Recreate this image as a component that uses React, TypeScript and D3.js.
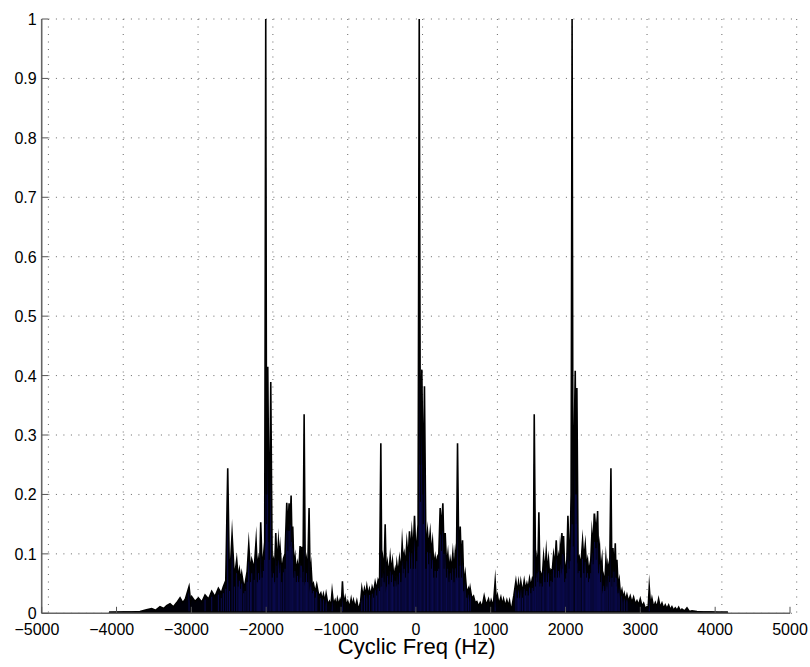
import React from "react";
import * as d3 from "d3";

const freqs: number[] = [
  -4100, -4087, -3900, -3800, -3686, -3600, -3530, -3480, -3419, -3370, -3330, -3285, -3240, -3195, -3151, -3115, -3080, -3031, -3010, -2995,
  -2950, -2906, -2860, -2817, -2770, -2728, -2685, -2639, -2600, -2572, -2540, -2514, -2490, -2456, -2425, -2394, -2375, -2358, -2340, -2327,
  -2300, -2282, -2255, -2233, -2210, -2193, -2160, -2135, -2118, -2104, -2088, -2073, -2055, -2037, -2020, -2006, -1995, -1979, -1960, -1939,
  -1920, -1903, -1888, -1872, -1855, -1837, -1825, -1814, -1792, -1770, -1748, -1725, -1710, -1694, -1680, -1667, -1655, -1645, -1630, -1614,
  -1598, -1582, -1565, -1547, -1535, -1525, -1508, -1493, -1478, -1462, -1445, -1427, -1413, -1400, -1385, -1369, -1345, -1324, -1295, -1270,
  -1250, -1235, -1215, -1199, -1175, -1155, -1135, -1119, -1100, -1079, -1060, -1048, -1030, -1012, -995, -981, -965, -945, -925, -909,
  -885, -865, -850, -834, -810, -789, -770, -753, -738, -722, -705, -687, -670, -655, -638, -620, -600, -584, -565, -544,
  -525, -504, -485, -468, -455, -441, -425, -410, -395, -379, -360, -343, -327, -312, -295, -277, -265, -254, -237, -219,
  -200, -183, -170, -156, -140, -121, -103, -85, -70, -54, -36, -18, 0, 13, 30, 45, 60, 80, 98, 115,
  135, 156, 172, 191, 207, 223, 240, 258, 273, 289, 307, 325, 343, 361, 377, 392, 410, 428, 443, 459,
  477, 494, 510, 526, 542, 557, 575, 593, 608, 624, 640, 659, 680, 704, 715, 726, 748, 771, 793, 815,
  838, 860, 885, 913, 940, 971, 990, 1007, 1035, 1060, 1075, 1091, 1110, 1136, 1155, 1172, 1195, 1216, 1235, 1252,
  1268, 1283, 1310, 1337, 1355, 1372, 1388, 1403, 1425, 1448, 1466, 1484, 1500, 1519, 1537, 1555, 1570, 1582, 1600, 1617,
  1630, 1644, 1658, 1671, 1690, 1707, 1725, 1742, 1758, 1773, 1790, 1805, 1822, 1840, 1858, 1876, 1892, 1907, 1918, 1929,
  1940, 1952, 1963, 1974, 1990, 2005, 2018, 2032, 2048, 2063, 2075, 2088, 2100, 2130, 2140, 2152, 2168, 2183, 2205, 2228,
  2245, 2264, 2280, 2295, 2310, 2322, 2338, 2353, 2368, 2384, 2395, 2406, 2418, 2429, 2442, 2455, 2470, 2487, 2498, 2509,
  2525, 2540, 2555, 2567, 2590, 2607, 2620, 2634, 2650, 2665, 2677, 2687, 2703, 2718, 2736, 2754, 2770, 2785, 2803, 2821,
  2843, 2865, 2888, 2910, 2933, 2955, 2977, 2999, 3022, 3044, 3066, 3088, 3105, 3119, 3137, 3155, 3178, 3200, 3222, 3244,
  3266, 3289, 3311, 3333, 3355, 3378, 3400, 3422, 3445, 3467, 3490, 3512, 3535, 3556, 3590, 3623, 3655, 3690, 3757, 3846,
  3950, 4050, 4160, 4170,
];

const mags: number[] = [
  0, 0.001, 0.002, 0.002, 0.003, 0.006, 0.008, 0.005, 0.011, 0.008, 0.013, 0.016, 0.011, 0.018, 0.026, 0.018, 0.024, 0.045, 0.02, 0.028,
  0.02, 0.026, 0.019, 0.031, 0.024, 0.037, 0.028, 0.042, 0.034, 0.045, 0.055, 0.244, 0.05, 0.133, 0.06, 0.09, 0.06, 0.073, 0.055, 0.067,
  0.045, 0.05, 0.07, 0.116, 0.07, 0.09, 0.075, 0.122, 0.07, 0.09, 0.075, 0.153, 0.08, 0.095, 0.12, 1.0, 0.2, 0.415, 0.12, 0.389,
  0.08, 0.09, 0.07, 0.135, 0.08, 0.119, 0.09, 0.11, 0.07, 0.092, 0.1, 0.186, 0.14, 0.185, 0.15, 0.198, 0.12, 0.146, 0.08, 0.095,
  0.07, 0.084, 0.07, 0.113, 0.08, 0.112, 0.07, 0.335, 0.07, 0.09, 0.07, 0.177, 0.06, 0.078, 0.045, 0.05, 0.035, 0.048, 0.028, 0.034,
  0.022, 0.032, 0.02, 0.033, 0.015, 0.02, 0.012, 0.037, 0.015, 0.022, 0.012, 0.024, 0.014, 0.023, 0.015, 0.054, 0.015, 0.027, 0.012, 0.02,
  0.01, 0.024, 0.012, 0.022, 0.01, 0.021, 0.008, 0.012, 0.02, 0.042, 0.028, 0.041, 0.03, 0.045, 0.03, 0.041, 0.03, 0.044, 0.035, 0.052,
  0.04, 0.056, 0.05, 0.286, 0.06, 0.09, 0.07, 0.15, 0.06, 0.084, 0.065, 0.094, 0.07, 0.087, 0.06, 0.073, 0.06, 0.083, 0.065, 0.091,
  0.07, 0.118, 0.09, 0.1, 0.08, 0.118, 0.09, 0.138, 0.1, 0.135, 0.1, 0.164, 0.1, 0.117, 0.15, 1.0, 0.25, 0.41, 0.2, 0.382,
  0.1, 0.137, 0.11, 0.135, 0.1, 0.12, 0.08, 0.095, 0.08, 0.095, 0.1, 0.177, 0.14, 0.185, 0.1, 0.135, 0.08, 0.1, 0.07, 0.09,
  0.075, 0.101, 0.07, 0.101, 0.08, 0.286, 0.08, 0.146, 0.08, 0.123, 0.05, 0.067, 0.035, 0.042, 0.03, 0.042, 0.025, 0.029, 0.018, 0.02,
  0.012, 0.018, 0.01, 0.029, 0.014, 0.024, 0.012, 0.022, 0.012, 0.054, 0.02, 0.03, 0.015, 0.027, 0.014, 0.024, 0.012, 0.022, 0.012, 0.021,
  0.008, 0.01, 0.03, 0.054, 0.035, 0.052, 0.035, 0.053, 0.035, 0.055, 0.04, 0.05, 0.04, 0.058, 0.045, 0.057, 0.05, 0.335, 0.06, 0.09,
  0.07, 0.17, 0.06, 0.067, 0.06, 0.095, 0.07, 0.103, 0.07, 0.09, 0.06, 0.073, 0.07, 0.098, 0.08, 0.123, 0.08, 0.095, 0.08, 0.11,
  0.09, 0.135, 0.1, 0.13, 0.07, 0.078, 0.09, 0.164, 0.1, 0.117, 0.2, 1.0, 0.15, 0.408, 0.2, 0.379, 0.09, 0.095, 0.08, 0.122,
  0.09, 0.115, 0.08, 0.09, 0.07, 0.078, 0.09, 0.135, 0.11, 0.168, 0.12, 0.146, 0.12, 0.172, 0.09, 0.11, 0.07, 0.09, 0.05, 0.062,
  0.05, 0.09, 0.06, 0.084, 0.07, 0.244, 0.06, 0.11, 0.07, 0.118, 0.06, 0.09, 0.045, 0.056, 0.03, 0.039, 0.025, 0.033, 0.022, 0.031,
  0.02, 0.029, 0.018, 0.027, 0.015, 0.021, 0.014, 0.024, 0.012, 0.017, 0.008, 0.011, 0.01, 0.044, 0.012, 0.025, 0.01, 0.018, 0.01, 0.024,
  0.01, 0.017, 0.008, 0.014, 0.008, 0.014, 0.006, 0.011, 0.005, 0.009, 0.005, 0.01, 0.004, 0.007, 0.004, 0.009, 0.003, 0.004, 0.003, 0.002,
  0.002, 0.001, 0.001, 0,
];

const xTicks: number[] = [-5000, -4000, -3000, -2000, -1000, 0, 1000, 2000, 3000, 4000, 5000];
const yTicks: number[] = [0, 0.1, 0.2, 0.3, 0.4, 0.5, 0.6, 0.7, 0.8, 0.9, 1];
const xLabel = "Cyclic Freq (Hz)";

const W = 810;
const H = 667;
const LEFT = 41.7;
const RIGHT = 790;
const TOP = 19;
const BOTTOM = 613.3;
const GRID_SHIFT = 6.7;
const FONT = "'Liberation Sans', Arial, Helvetica, sans-serif";

export default function App() {
  const x = d3.scaleLinear().domain([-5000, 5000]).range([LEFT, RIGHT]);
  const y = d3.scaleLinear().domain([0, 1]).range([BOTTOM, TOP]);

  const pts: [number, number][] = freqs.map((f, i) => [f, mags[i]]);
  const area = d3
    .area<[number, number]>()
    .x((d) => x(d[0]))
    .y0(y(0))
    .y1((d) => y(d[1]))
    .curve(d3.curveLinear);
  const line = d3
    .line<[number, number]>()
    .x((d) => x(d[0]))
    .y((d) => y(d[1]));

  const fmt = (t: number) => d3.format("")(t);

  return (
    <svg
      width={W}
      height={H}
      viewBox={`0 0 ${W} ${H}`}
      style={{ position: "absolute", left: 0, top: 0, background: "#fff" }}
    >
      <rect x={0} y={0} width={W} height={H} fill="#fff" />
      {/* grid */}
      <g stroke="#666" strokeWidth={1} strokeDasharray="1,6.5" fill="none">
        {xTicks.map((t) => (
          <line key={"gx" + t} x1={x(t) + GRID_SHIFT} x2={x(t) + GRID_SHIFT} y1={TOP} y2={BOTTOM} />
        ))}
        {yTicks.map((t) => (
          <line key={"gy" + t} x1={LEFT + GRID_SHIFT} x2={RIGHT + GRID_SHIFT} y1={y(t)} y2={y(t)} />
        ))}
      </g>
      {/* data */}
      <path d={area(pts) || ""} fill="#000008" stroke="none" />
      <g stroke="#14148c" strokeWidth={1} opacity={0.55}>
        {pts
          .filter((d) => d[1] > 0.03)
          .map((d, i) => (
            <line key={"s" + i} x1={x(d[0])} x2={x(d[0])} y1={y(0)} y2={y(d[1] * 0.75)} />
          ))}
      </g>
      <path d={line(pts) || ""} fill="none" stroke="#000" strokeWidth={1.6} strokeLinejoin="miter" strokeMiterlimit={20} />
      <line x1={x(freqs[0])} x2={x(freqs[freqs.length - 1])} y1={BOTTOM - 1} y2={BOTTOM - 1} stroke="#000" strokeWidth={2} />
      {/* axes */}
      <g stroke="#666" strokeWidth={1.6} fill="none">
        <line x1={LEFT} x2={LEFT} y1={TOP} y2={BOTTOM} />
        <line x1={LEFT} x2={RIGHT} y1={BOTTOM} y2={BOTTOM} />
      </g>
      <g stroke="#555" strokeWidth={1}>
        {xTicks.map((t) => (
          <line key={"tx" + t} x1={x(t)} x2={x(t)} y1={BOTTOM} y2={BOTTOM - 6.5} />
        ))}
        {yTicks.map((t) => (
          <line key={"ty" + t} x1={LEFT} x2={LEFT + 6.5} y1={y(t)} y2={y(t)} />
        ))}
      </g>
      <g fontFamily={FONT} fontSize={16} fill="#000">
        {xTicks.map((t) => (
          <text key={"lx" + t} x={x(t) - (t < 0 ? 4.8 : 0)} y={634.5} textAnchor="middle">
            {fmt(t)}
          </text>
        ))}
        {yTicks.map((t) => (
          <text key={"ly" + t} x={36.7} y={y(t) + 6} textAnchor="end">
            {fmt(t)}
          </text>
        ))}
      </g>
      <text x={416.7} y={654} textAnchor="middle" fontFamily={FONT} fontSize={22} fill="#000">
        {xLabel}
      </text>
    </svg>
  );
}
